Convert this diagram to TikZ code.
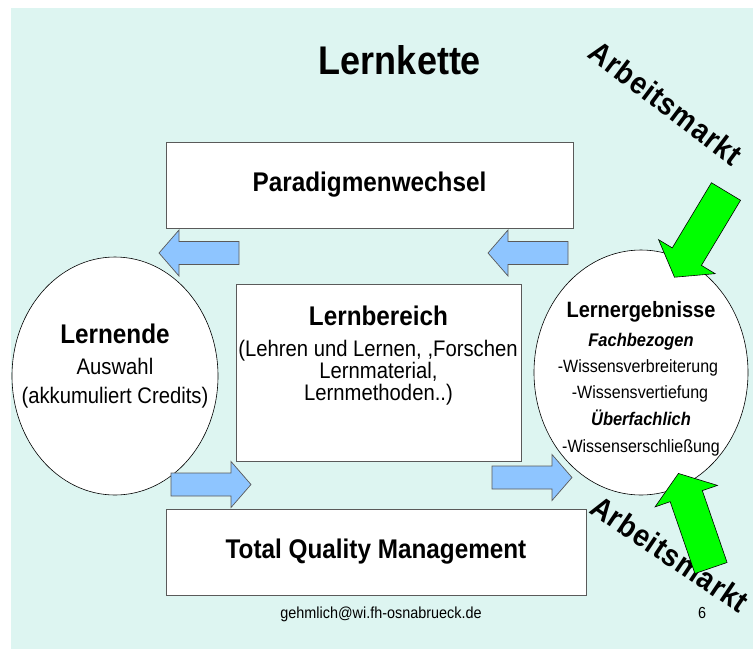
\documentclass[tikz,border=0pt]{standalone}
\usepackage{fontspec}
\setmainfont[FakeStretch=0.9]{Liberation Sans}
\usepackage{xcolor}
\usetikzlibrary{shapes.geometric}
\definecolor{mint}{RGB}{221,245,241}
\definecolor{skyblue}{RGB}{142,197,255}
\definecolor{boxgray}{RGB}{90,90,90}
\definecolor{brightgreen}{RGB}{0,255,0}
\tikzset{
  box/.style = {draw = boxgray, line width = 0.9pt, fill = white, inner sep = 0pt},
  bubble/.style = {ellipse, draw = black, line width = 0.6pt, fill = white, inner sep = 0pt},
  titlefont/.style = {font = \fontsize{40}{40}\selectfont\bfseries},
  headfont/.style = {font = \fontsize{27}{27}\selectfont\bfseries},
  subfont/.style = {font = \fontsize{22.5}{22.5}\selectfont},
  smallfont/.style = {font = \fontsize{17.8}{17.8}\selectfont},
  smallhead/.style = {font = \fontsize{18.3}{18.3}\selectfont\bfseries\itshape},
  markfont/.style = {font = \fontsize{31}{31}\selectfont\bfseries\addfontfeature{LetterSpace=3}},
  footfont/.style = {font = \fontsize{16}{16}\selectfont},
  pics/bluearrow/.style = {code = {
    \draw[draw = boxgray, line width = 0.7pt, fill = skyblue]
      (0,-11.5) -- (60,-11.5) -- (60,-23) -- (80,0) -- (60,23) -- (60,11.5) -- (0,11.5) -- cycle;}},
  pics/greenarrow/.style = {code = {
    \draw[draw = black, line width = 0.6pt, fill = brightgreen]
      (0,-17) -- (76,-17) -- (76,-33) -- (100,0) -- (76,33) -- (76,17) -- (0,17) -- cycle;}}
}
\begin{document}
\begin{tikzpicture}[x = 1pt, y = -1pt]
    \useasboundingbox[fill = white] (0,0) rectangle (753,649);
    \fill[mint] (11,8) rectangle (753,649);
    \node[titlefont, anchor = base] (title) at (400,74) {Lernkette};
    % boxes
    \node[box, headfont, minimum width = 407pt, minimum height = 86pt] (paradigm) at (369.5,185) {Paradigmenwechsel};
    \node[box, minimum width = 285pt, minimum height = 177pt] (bereich) at (378.5,372.5) {};
    \node[box, headfont, minimum width = 420pt, minimum height = 86pt] (tqm) at (376,552) {Total Quality Management};
    \node[bubble, minimum width = 206pt, minimum height = 238pt] (lernende) at (115,376) {};
    \node[bubble, minimum width = 214pt, minimum height = 245pt] (ergebnis) at (641,372.5) {};
    % blue arrows
    \pic[rotate = 180] (pfeilA) at (239,253) {bluearrow};
    \pic[rotate = 180] (pfeilB) at (568,253) {bluearrow};
    \pic (pfeilC) at (171,484.5) {bluearrow};
    \pic (pfeilD) at (492,477.5) {bluearrow};
    % texts
    \node[headfont, anchor = base] (lernendeA) at (115,343) {Lernende};
    \node[subfont, anchor = base] (lernendeB) at (115,374) {Auswahl};
    \node[subfont, anchor = base] (lernendeC) at (115,403) {(akkumuliert Credits)};
    \node[headfont, anchor = base] (bereichA) at (378.5,325) {Lernbereich};
    \node[subfont, anchor = base] (bereichB) at (378,356) {(Lehren und Lernen, ,Forschen};
    \node[subfont, anchor = base] (bereichC) at (378.5,378) {Lernmaterial,};
    \node[subfont, anchor = base] (bereichD) at (378.5,400) {Lernmethoden..)};
    \node[font = \fontsize{22.2}{22.2}\selectfont\bfseries, anchor = base] (ergebnisA) at (641,317) {Lernergebnisse};
    \node[smallhead, anchor = base] (ergebnisB) at (641,346) {Fachbezogen};
    \node[smallfont, anchor = base] (ergebnisC) at (638,372) {-Wissensverbreiterung};
    \node[smallfont, anchor = base] (ergebnisD) at (640,398) {-Wissensvertiefung};
    \node[smallhead, anchor = base] (ergebnisE) at (641,425) {Überfachlich};
    \node[smallfont, anchor = base] (ergebnisF) at (641,452) {-Wissenserschließung};
    \node[markfont, rotate = -37] (marktA) at (666,103) {Arbeitsmarkt};
    \node[markfont, rotate = -34] (marktB) at (670,554) {Arbeitsmarkt};
    \node[footfont, anchor = base] (mail) at (381,618) {gehmlich@wi.fh-osnabrueck.de};
    \node[footfont, anchor = base] (seite) at (702,618) {6};
    % green arrows
    \pic[rotate = 239] (gruenA) at (726,191.5) {greenarrow};
    \pic[rotate = 109] (gruenB) at (711,568) {greenarrow};
\end{tikzpicture}
\end{document}
